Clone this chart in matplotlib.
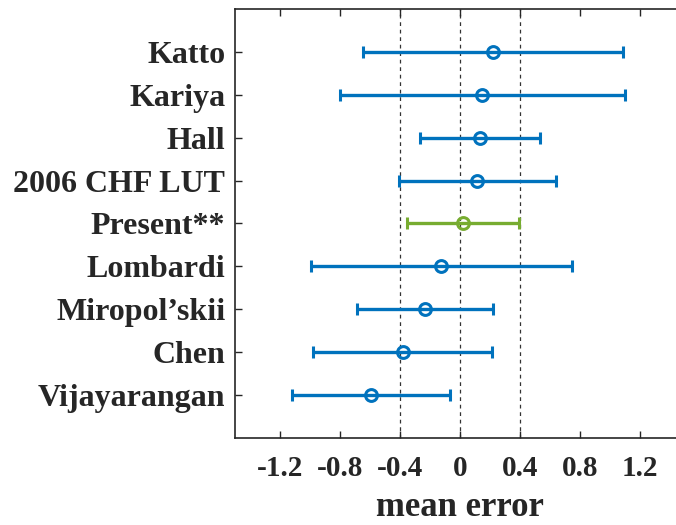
import matplotlib.pyplot as plt
import numpy as np

plt.rcParams["font.family"] = "Liberation Serif"
plt.rcParams["font.weight"] = "bold"

# correlations, listed bottom to top
labels = ["Vijayarangan", "Chen", "Miropol\u2019skii", "Lombardi", "Present**",
          "2006 CHF LUT", "Hall", "Kariya", "Katto"]
mean_err = [-0.593, -0.383, -0.236, -0.125, 0.018, 0.116, 0.132, 0.148, 0.222]
std_err = [0.528, 0.596, 0.453, 0.871, 0.374, 0.523, 0.400, 0.951, 0.866]

xticks = [-1.2, -0.8, -0.4, 0, 0.4, 0.8, 1.2]
xticklabels = ["-1.2", "-0.8", "-0.4", "0", "0.4", "0.8", "1.2"]
ref_lines = [-0.4, 0, 0.4]

blue = "#0072BD"
green = "#77AC30"

fig = plt.figure(figsize=(6.76, 5.25), dpi=100)
# axes run past the right edge of the canvas
ax = fig.add_axes([235 / 676, 1 - 438 / 525, 450 / 676, 429 / 525])

for xr in ref_lines:
    ax.axvline(xr, color="#333333", lw=0.9, ls=(0, (3, 3)), zorder=1)

y = np.arange(1, len(labels) + 1)
for yi, m, s, name in zip(y, mean_err, std_err, labels):
    c = green if name.startswith("Present") else blue
    ax.errorbar(m, yi, xerr=s, fmt="o", color=c, mfc="none", mec=c,
                ms=8.5, mew=2.2, elinewidth=2.4, capsize=4, capthick=2.4, zorder=3)

ax.set_xlim(-1.5, 1.5)
ax.set_ylim(0, 10)
ax.set_yticks(y)
ax.set_yticklabels(labels, fontsize=23)
ax.set_xticks(xticks)
ax.set_xticklabels(xticklabels, fontsize=21)
ax.tick_params(axis="both", direction="in", color="#262626", length=5, width=1)
ax.tick_params(axis="x", top=True, pad=12)
ax.tick_params(axis="y", pad=7)
for sp in ax.spines.values():
    sp.set_color("#262626")
    sp.set_linewidth(1.2)
ax.set_xlabel("mean error", fontsize=25, fontweight="bold", color="#262626", labelpad=7)
for t in ax.get_xticklabels() + ax.get_yticklabels():
    t.set_color("#262626")

fig.savefig("out.png", dpi=100)
